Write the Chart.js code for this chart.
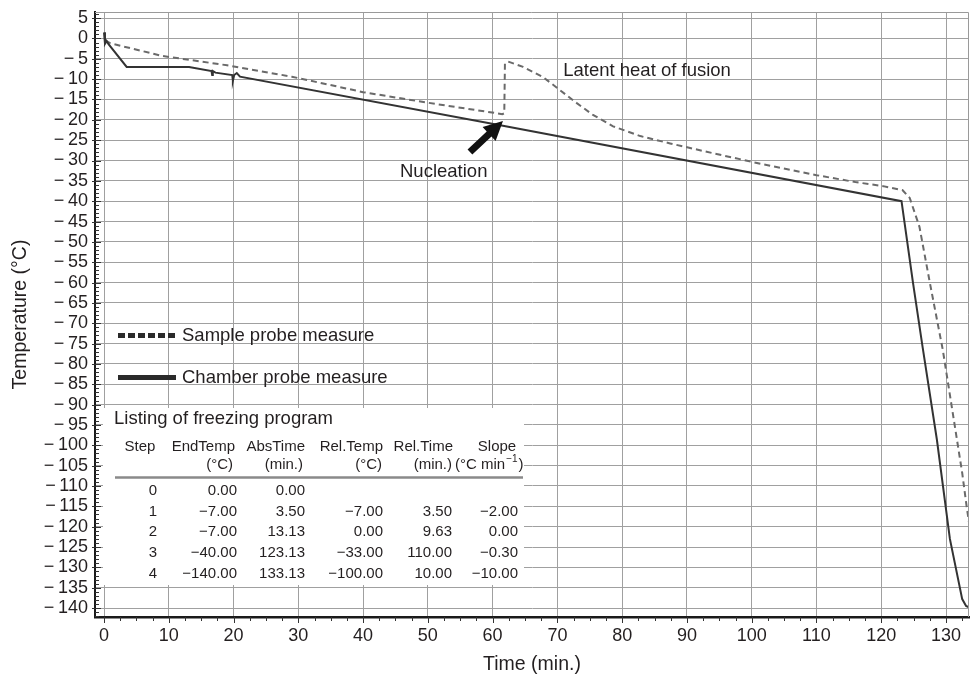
<!DOCTYPE html>
<html><head><meta charset="utf-8">
<script src="https://cdn.jsdelivr.net/npm/chart.js@4"></script>
<style>html,body{margin:0;padding:0;background:#fff}canvas{display:block}</style>
</head><body>
<canvas id="c" width="971" height="679"></canvas>
<script>
// ---- data ----
const chamberTime = [0, 0.15, 0.4, 0.7, 3.5, 13.13, 16.6, 16.7, 16.8, 17.2, 19.8, 19.9, 20.1, 20.5, 21.0, 62.0, 123.13, 124.9, 126.4, 128.6, 130.6, 132.5, 133.1, 134.0];
const chamberTemp = [1.5, -1.3, -0.6, -1.4, -7.0, -7.0, -8.0, -9.0, -8.0, -8.4, -9.0, -10.4, -9.0, -8.5, -9.4, -21.6, -40.0, -60.0, -76.0, -98.7, -123.0, -137.8, -139.5, -140.2];
const sampleTime = [0.2, 1.0, 9.0, 19.0, 29.0, 40.0, 50.0, 61.5, 61.8, 61.9, 62.4, 64.7, 67.8, 70.4, 73.0, 75.5, 78.6, 82.8, 87.4, 94.0, 100.8, 110.0, 116.0, 120.3, 123.3, 124.4, 125.9, 127.5, 129.5, 131.7, 132.5, 133.2, 134.5];
const sampleTemp = [-0.5, -1.2, -4.3, -6.6, -9.4, -13.2, -15.8, -18.6, -18.4, -6.2, -5.7, -7.0, -9.5, -12.7, -15.9, -18.8, -21.6, -24.0, -25.8, -28.2, -30.6, -33.6, -35.3, -36.3, -37.3, -39.2, -46.3, -60.0, -76.5, -98.7, -106.8, -115.2, -129.0];
const xTicks = [0, 10, 20, 30, 40, 50, 60, 70, 80, 90, 100, 110, 120, 130];
const yTicks = [5, 0, -5, -10, -15, -20, -25, -30, -35, -40, -45, -50, -55, -60, -65, -70, -75, -80, -85, -90, -95, -100, -105, -110, -115, -120, -125, -130, -135, -140];
const tableSteps = [0, 1, 2, 3, 4];
const tableEndTemp = [0, -7, -7, -40, -140];
const tableAbsTime = [0, 3.5, 13.13, 123.13, 133.13];
const tableRelTemp = [null, -7, 0, -33, -100];
const tableRelTime = [null, 3.5, 9.63, 110, 10];
const tableSlope = [null, -2, 0, -0.3, -10];

const FONT = "'Liberation Sans', Arial, Helvetica, sans-serif";
const TXT = '#231f20';
const fmtTick = v => (v < 0 ? '\u2212\u2009' : '') + Math.abs(v);
const fmtCell = v => v == null ? '' : (v < 0 ? '\u2212' : '') + Math.abs(v).toFixed(2);

const overlay = {
  id: 'overlay',
  beforeDatasetsDraw(chart) {
    const {ctx} = chart;
    ctx.save();
    ctx.fillStyle = '#fff';
    ctx.fillRect(103, 408, 421, 177);
    ctx.restore();
  },
  afterDraw(chart) {
    const {ctx, chartArea: a, scales: {x, y}} = chart;
    ctx.save();
    // top / right frame
    ctx.strokeStyle = '#9a9a9a'; ctx.lineWidth = 1;
    ctx.beginPath();
    ctx.moveTo(a.left, a.top + 0.5); ctx.lineTo(a.right - 0.5, a.top + 0.5); ctx.lineTo(a.right - 0.5, a.bottom);
    ctx.stroke();
    // minor ticks y
    ctx.strokeStyle = '#333'; ctx.lineWidth = 1;
    ctx.beginPath();
    for (let v = -142; v <= 6; v++) {
      const py = Math.round(y.getPixelForValue(v)) + 0.5;
      const major = v % 5 === 0;
      ctx.moveTo(major ? a.left - 3 : a.left, py);
      ctx.lineTo(major ? a.left + 6 : a.left + 4, py);
    }
    // minor ticks x
    for (let v = 0; v <= 133; v += 2.5) {
      const px = Math.round(x.getPixelForValue(v)) + 0.5;
      const major = v % 10 === 0;
      ctx.moveTo(px, a.bottom);
      ctx.lineTo(px, a.bottom + (major ? 6 : 4));
    }
    ctx.stroke();

    // legend
    ctx.fillStyle = '#2a2a2a';
    for (let i = 0; i < 6; i++) ctx.fillRect(118 + i * 10, 333, 7, 5);
    ctx.fillRect(118, 375, 58, 5);
    ctx.fillStyle = TXT;
    ctx.font = `18.5px ${FONT}`;
    ctx.textBaseline = 'middle';
    ctx.textAlign = 'left';
    ctx.fillText('Sample probe measure', 182, 336);
    ctx.fillText('Chamber probe measure', 182, 378);

    // annotations
    ctx.fillText('Latent heat of fusion', x.getPixelForValue(70.9), y.getPixelForValue(-8.0));
    ctx.fillText('Nucleation', x.getPixelForValue(45.7), y.getPixelForValue(-32.8));
    // arrow
    const tx = x.getPixelForValue(61.6), ty = y.getPixelForValue(-20.3);
    const sx = x.getPixelForValue(56.5), sy = y.getPixelForValue(-27.9);
    const dx = tx - sx, dy = ty - sy, L = Math.hypot(dx, dy);
    const ux = dx / L, uy = dy / L, nx = -uy, ny = ux;
    const hl = 19, hw = 9.5, sw = 3.5;
    const bx = tx - ux * hl, by = ty - uy * hl;
    ctx.fillStyle = '#111';
    ctx.beginPath();
    ctx.moveTo(sx + nx * sw, sy + ny * sw);
    ctx.lineTo(bx + nx * sw, by + ny * sw);
    ctx.lineTo(bx + nx * hw, by + ny * hw);
    ctx.lineTo(tx, ty);
    ctx.lineTo(bx - nx * hw, by - ny * hw);
    ctx.lineTo(bx - nx * sw, by - ny * sw);
    ctx.lineTo(sx - nx * sw, sy - ny * sw);
    ctx.closePath();
    ctx.fill();

    // table
    ctx.fillStyle = TXT;
    ctx.font = `18.5px ${FONT}`;
    ctx.textAlign = 'left';
    ctx.fillText('Listing of freezing program', 114, 419);
    ctx.font = `15px ${FONT}`;
    ctx.textAlign = 'center';
    ctx.fillText('Step', 140, 447);
    ctx.fillText('Slope', 497, 447);
    ctx.textAlign = 'right';
    ctx.fillText('EndTemp', 235, 447);
    ctx.fillText('AbsTime', 305, 447);
    ctx.fillText('Rel.Temp', 383, 447);
    ctx.fillText('Rel.Time', 453, 447);
    ctx.fillText('(\u00b0C)', 233, 465);
    ctx.fillText('(min.)', 303, 465);
    ctx.fillText('(\u00b0C)', 382, 465);
    ctx.fillText('(min.)', 452, 465);
    ctx.textAlign = 'left';
    const s1 = '(\u00b0C min';
    ctx.fillText(s1, 455, 465);
    let w1 = ctx.measureText(s1).width;
    ctx.font = `10px ${FONT}`;
    ctx.fillText('\u22121', 455 + w1 + 1, 459);
    let w2 = ctx.measureText('\u22121').width;
    ctx.font = `15px ${FONT}`;
    ctx.fillText(')', 455 + w1 + w2 + 2, 465);
    ctx.strokeStyle = '#8a8a8a'; ctx.lineWidth = 2.5;
    ctx.beginPath(); ctx.moveTo(115, 477.5); ctx.lineTo(523, 477.5); ctx.stroke();
    ctx.textAlign = 'right';
    for (let i = 0; i < tableSteps.length; i++) {
      const ry = 491 + i * 20.6;
      ctx.fillText(String(tableSteps[i]), 157, ry);
      ctx.fillText(fmtCell(tableEndTemp[i]), 237, ry);
      ctx.fillText(fmtCell(tableAbsTime[i]), 305, ry);
      ctx.fillText(fmtCell(tableRelTemp[i]), 383, ry);
      ctx.fillText(fmtCell(tableRelTime[i]), 452, ry);
      ctx.fillText(fmtCell(tableSlope[i]), 518, ry);
    }
    ctx.restore();
  }
};

new Chart(document.getElementById('c'), {
  type: 'line',
  data: {
    datasets: [
      { label: 'Chamber probe measure', data: chamberTime.map((t, i) => ({x: t, y: chamberTemp[i]})),
        borderColor: '#333333', borderWidth: 2, pointRadius: 0, tension: 0, fill: false },
      { label: 'Sample probe measure', data: sampleTime.map((t, i) => ({x: t, y: sampleTemp[i]})),
        borderColor: '#6a6a6a', borderWidth: 2, borderDash: [6, 4], pointRadius: 0, tension: 0, fill: false }
    ]
  },
  options: {
    responsive: false, animation: false, devicePixelRatio: 1,
    layout: {padding: {top: 12, right: 2, left: 0, bottom: 0}},
    plugins: {legend: {display: false}, tooltip: {enabled: false}},
    scales: {
      x: {
        type: 'linear', min: -1.39, max: 133.55,
        afterBuildTicks: s => { s.ticks = xTicks.map(v => ({value: v})); },
        afterFit: s => { s.height = 62; s.paddingLeft = 0; s.paddingRight = 0; },
        grid: {color: '#a0a0a0', lineWidth: 1, drawTicks: false},
        border: {color: '#1a1a1a', width: 2.5},
        ticks: {padding: 8, color: TXT, font: {family: FONT, size: 18}, maxRotation: 0, autoSkip: false, callback: v => fmtTick(v)},
        title: {display: true, text: 'Time (min.)', color: TXT, font: {family: FONT, size: 19.5}, padding: {top: 0, bottom: 3}}
      },
      y: {
        type: 'linear', min: -142.2, max: 6.5,
        afterBuildTicks: s => { s.ticks = yTicks.map(v => ({value: v})); },
        afterFit: s => { s.width = 95; s.paddingTop = 0; s.paddingBottom = 0; },
        grid: {color: '#a0a0a0', lineWidth: 1, drawTicks: false},
        border: {color: '#1a1a1a', width: 2},
        ticks: {padding: 7, color: TXT, font: {family: FONT, size: 18}, autoSkip: false, callback: v => fmtTick(v)},
        title: {display: true, text: 'Temperature (\u00b0C)', color: TXT, font: {family: FONT, size: 19.5}, padding: {top: 9, bottom: 0}}
      }
    }
  },
  plugins: [overlay]
});
</script>
</body></html>
